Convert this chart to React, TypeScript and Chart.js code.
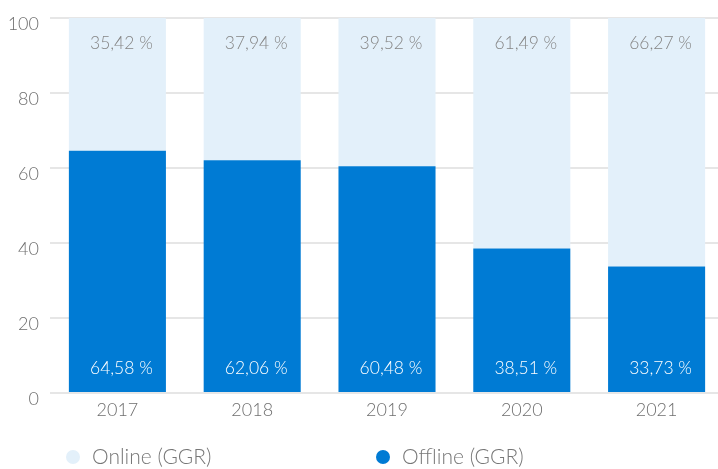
import React, { useEffect, useRef } from "react";
import { Chart, registerables } from "chart.js";

Chart.register(...registerables);

const categories = ["2017", "2018", "2019", "2020", "2021"];
const onlineShare = [35.42, 37.94, 39.52, 61.49, 66.27];
const offlineShare = [64.58, 62.06, 60.48, 38.51, 33.73];
const seriesNames = ["Online (GGR)", "Offline (GGR)"];

const ONLINE_COLOR = "#e3f0fa";
const OFFLINE_COLOR = "#007bd4";
const FONT = "Lato";

const fmt = (v: number) => v.toFixed(2).replace(".", ",") + " %";

const labelPlugin = {
  id: "barLabels",
  afterDatasetsDraw(chart: any) {
    const ctx = chart.ctx;
    ctx.save();
    ctx.font = `300 17.5px ${FONT}`;
    ctx.textAlign = "center";
    ctx.textBaseline = "middle";
    chart.data.datasets.forEach((ds: any, di: number) => {
      const meta = chart.getDatasetMeta(di);
      meta.data.forEach((bar: any, i: number) => {
        const v = ds.data[i];
        if (ds.label === seriesNames[0]) {
          ctx.fillStyle = "#858585";
          ctx.fillText(fmt(v), bar.x + 4, bar.y + 25);
        } else {
          ctx.fillStyle = "#ffffff";
          ctx.fillText(fmt(v), bar.x + 4, bar.base - 24);
        }
      });
    });
    ctx.restore();
  },
};

const legendPlugin = {
  id: "customLegend",
  afterDraw(chart: any) {
    const ctx = chart.ctx;
    ctx.save();
    const items = [
      { x: 73, color: ONLINE_COLOR, text: seriesNames[0] },
      { x: 383, color: OFFLINE_COLOR, text: seriesNames[1] },
    ];
    const y = 457;
    ctx.font = `300 21px ${FONT}`;
    ctx.textBaseline = "middle";
    ctx.textAlign = "left";
    items.forEach((it) => {
      ctx.beginPath();
      ctx.arc(it.x, y, 7, 0, Math.PI * 2);
      ctx.fillStyle = it.color;
      ctx.fill();
      ctx.fillStyle = "#777777";
      ctx.fillText(it.text, it.x + 19, y);
    });
    ctx.restore();
  },
};

export default function App() {
  const ref = useRef<HTMLCanvasElement>(null);
  useEffect(() => {
    if (!ref.current) return;
    const chart = new Chart(ref.current, {
      type: "bar",
      data: {
        labels: categories,
        datasets: [
          {
            label: seriesNames[1],
            data: offlineShare,
            backgroundColor: OFFLINE_COLOR,
            barPercentage: 0.72,
            categoryPercentage: 1,
          },
          {
            label: seriesNames[0],
            data: onlineShare,
            backgroundColor: ONLINE_COLOR,
            barPercentage: 0.72,
            categoryPercentage: 1,
          },
        ],
      },
      options: {
        responsive: false,
        animation: false,
        devicePixelRatio: 1,
        layout: { padding: { top: 0, left: 0, right: 0, bottom: 0 } },
        plugins: { legend: { display: false }, tooltip: { enabled: false } },
        scales: {
          x: {
            stacked: true,
            grid: { display: false, drawTicks: false },
            border: { display: false },
            ticks: {
              color: "#6f6f6f",
              font: { family: FONT, size: 18, weight: 300 as any },
              padding: 6,
            },
            afterFit(scale: any) {
              scale.height = 76;
            },
          },
          y: {
            stacked: true,
            min: 0,
            max: 100,
            grid: { color: "#e6e6e6", lineWidth: 2, drawTicks: false },
            border: { display: false },
            ticks: {
              stepSize: 20,
              color: "#6f6f6f",
              font: { family: FONT, size: 18, weight: 300 as any },
              padding: 11,
              labelOffset: 6,
            },
            afterFit(scale: any) {
              scale.width = 50;
              scale.paddingTop = 18;
              scale.paddingBottom = 0;
            },
          },
        },
      },
      plugins: [labelPlugin, legendPlugin],
    });
    return () => chart.destroy();
  }, []);
  return (
    <div
      style={{
        position: "absolute",
        left: 0,
        top: 0,
        width: 718,
        height: 469,
        overflow: "hidden",
        background: "#fff",
      }}
    >
      <canvas ref={ref} width={724} height={469} style={{ display: "block" }} />
    </div>
  );
}
